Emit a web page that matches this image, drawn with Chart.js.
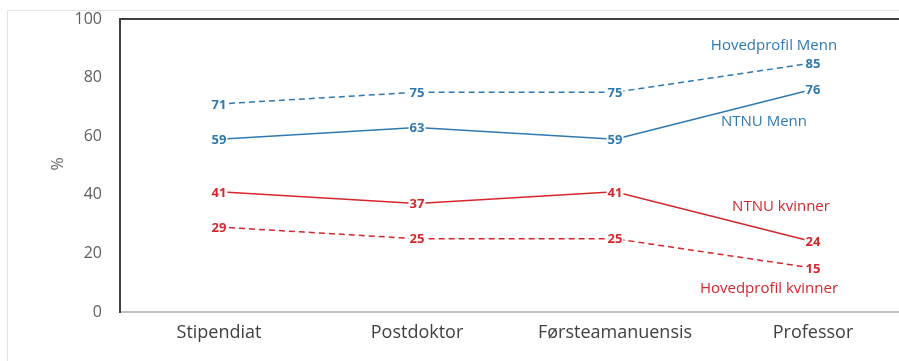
<!DOCTYPE html>
<html>
<head>
<meta charset="utf-8">
<script src="https://cdn.jsdelivr.net/npm/chart.js@4/dist/chart.umd.min.js"></script>
<style>
  html, body { margin: 0; padding: 0; background: #fff; overflow: hidden; }
  #wrap { width: 930px; height: 361px; }
</style>
</head>
<body>
<div id="wrap"><canvas id="chart" width="930" height="361"></canvas></div>
<script>
"use strict";
var categories = ['Stipendiat', 'Postdoktor', 'Førsteamanuensis', 'Professor'];
var hovedprofilMenn = [71, 75, 75, 85];
var ntnuMenn = [59, 63, 59, 76];
var ntnuKvinner = [41, 37, 41, 24];
var hovedprofilKvinner = [29, 25, 25, 15];
var yTicks = [0, 20, 40, 60, 80, 100];

var BLUE = '#2f79b0';
var RED = '#d4262d';

// series name labels, anchored on the last category (dx in px, y as value)
var seriesNotes = [
    { text: 'Hovedprofil Menn', color: BLUE, dx: -39, y: 91 },
    { text: 'NTNU Menn', color: BLUE, dx: -49, y: 65 },
    { text: 'NTNU kvinner', color: RED, dx: -32, y: 36 },
    { text: 'Hovedprofil kvinner', color: RED, dx: -44, y: 8 }
];

function line(label, data, color, dashed) {
    return {
        label: label,
        data: data,
        borderColor: color,
        backgroundColor: color,
        borderWidth: 1.5,
        borderDash: dashed ? [6, 4] : [],
        pointRadius: 0,
        tension: 0,
        fill: false
    };
}

var framePlugin = {
    id: 'frame',
    beforeDraw: function (chart) {
        var ctx = chart.ctx;
        ctx.save();
        ctx.strokeStyle = '#e3e3e3';
        ctx.lineWidth = 1;
        ctx.beginPath();
        ctx.moveTo(7.5, chart.height);
        ctx.lineTo(7.5, 10.5);
        ctx.lineTo(chart.width, 10.5);
        ctx.stroke();
        ctx.restore();
    },
    afterDraw: function (chart) {
        var ctx = chart.ctx, a = chart.chartArea;
        ctx.save();
        ctx.strokeStyle = '#404040';
        ctx.lineWidth = 2;
        ctx.beginPath();
        ctx.moveTo(a.left - 1, a.top);
        ctx.lineTo(a.right, a.top);
        ctx.stroke();
        // y axis title
        ctx.fillStyle = '#6a6a6a';
        ctx.font = '16px "Open Sans"';
        ctx.textAlign = 'center';
        ctx.textBaseline = 'middle';
        ctx.translate(58, 164);
        ctx.rotate(-Math.PI / 2);
        ctx.fillText('%', 0, 0);
        ctx.restore();
    }
};

var labelPlugin = {
    id: 'valueLabels',
    afterDatasetsDraw: function (chart) {
        var ctx = chart.ctx;
        var xs = chart.scales.x, ys = chart.scales.y;
        ctx.save();
        ctx.font = 'bold 13px "Open Sans"';
        ctx.textAlign = 'center';
        ctx.textBaseline = 'middle';
        chart.data.datasets.forEach(function (ds) {
            ds.data.forEach(function (v, i) {
                var x = xs.getPixelForValue(i);
                var y = ys.getPixelForValue(v);
                var w = ctx.measureText(String(v)).width;
                ctx.fillStyle = '#fff';
                ctx.fillRect(x - w / 2 - 1, y - 6, w + 2, 12);
                ctx.fillStyle = ds.borderColor;
                ctx.fillText(String(v), x, y + 1);
            });
        });
        ctx.font = '15px "Open Sans"';
        var last = xs.getPixelForValue(categories.length - 1);
        seriesNotes.forEach(function (n) {
            ctx.fillStyle = n.color;
            ctx.fillText(n.text, last + n.dx, ys.getPixelForValue(n.y));
        });
        ctx.restore();
    }
};

new Chart(document.getElementById('chart'), {
    type: 'line',
    data: {
        labels: categories,
        datasets: [
            line('Hovedprofil Menn', hovedprofilMenn, BLUE, true),
            line('NTNU Menn', ntnuMenn, BLUE, false),
            line('NTNU kvinner', ntnuKvinner, RED, false),
            line('Hovedprofil kvinner', hovedprofilKvinner, RED, true)
        ]
    },
    options: {
        responsive: false,
        animation: false,
        layout: { padding: { top: 19, right: 18, left: 0, bottom: 0 } },
        plugins: {
            legend: { display: false },
            tooltip: { enabled: false }
        },
        scales: {
            x: {
                offset: true,
                grid: { display: false, drawTicks: false },
                border: { display: true, color: '#c0c0c0', width: 2 },
                ticks: {
                    color: '#404040',
                    font: { family: 'Open Sans', size: 18 },
                    padding: 10,
                    maxRotation: 0
                },
                afterFit: function (s) { s.height = 49; }
            },
            y: {
                min: 0,
                max: 100,
                grid: { display: false, drawTicks: false },
                border: { display: true, color: '#404040', width: 2 },
                afterBuildTicks: function (s) {
                    s.ticks = yTicks.map(function (v) { return { value: v }; });
                },
                ticks: {
                    color: '#5f5f5f',
                    font: { family: 'Open Sans', size: 16 },
                    padding: 18
                },
                afterFit: function (s) {
                    s.width = 120;
                    s.paddingTop = 0;
                    s.paddingBottom = 0;
                }
            }
        }
    },
    plugins: [framePlugin, labelPlugin]
});
</script>
</body>
</html>
